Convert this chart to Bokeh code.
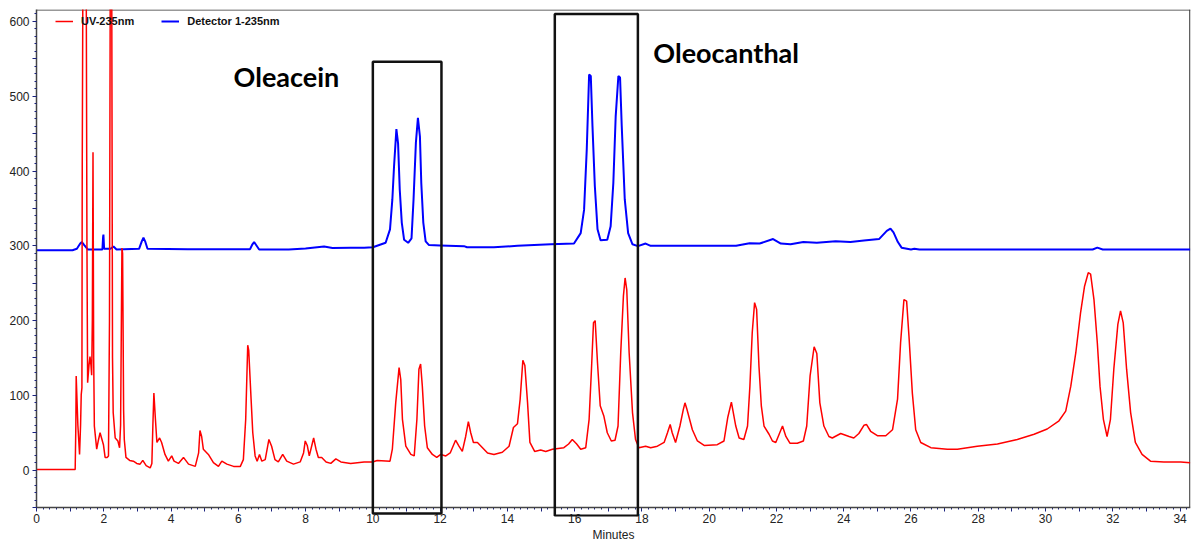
from bokeh.plotting import figure
from bokeh.models import (Range1d, FixedTicker, Legend, LegendItem, Label,
                          BoxAnnotation, ColumnDataSource, Span)
from bokeh.embed import file_html
from bokeh.resources import INLINE

# ---------------- data ----------------
red_time = [0.0, 1.15, 1.17, 1.18, 1.23, 1.28, 1.31, 1.33, 1.35, 1.36, 1.39, 1.47, 1.50, 1.52, 1.56,
            1.59, 1.62, 1.64, 1.66, 1.68, 1.70, 1.72, 1.79, 1.84, 1.89, 1.94, 1.99, 2.04, 2.10, 2.14,
            2.17, 2.20, 2.23, 2.26, 2.28, 2.34, 2.42, 2.47, 2.50, 2.54, 2.56, 2.59, 2.61, 2.66, 2.77,
            2.88, 2.98, 3.08, 3.16, 3.26, 3.38, 3.43, 3.46, 3.49, 3.53, 3.58, 3.66, 3.72, 3.82, 3.92,
            4.02, 4.09, 4.22, 4.37, 4.52, 4.72, 4.82, 4.86, 4.91, 4.96, 5.11, 5.26, 5.41, 5.51, 5.66,
            5.86, 6.06, 6.15, 6.22, 6.28, 6.31, 6.38, 6.43, 6.50, 6.56, 6.63, 6.70, 6.80, 6.91, 6.99,
            7.09, 7.19, 7.32, 7.44, 7.64, 7.84, 7.94, 7.99, 8.05, 8.11, 8.18, 8.24, 8.31, 8.38, 8.48,
            8.61, 8.75, 8.90, 9.05, 9.34, 9.74, 9.99, 10.13, 10.51, 10.58, 10.68, 10.78, 10.83, 10.88,
            10.98, 11.13, 11.23, 11.31, 11.37, 11.42, 11.47, 11.54, 11.62, 11.77, 11.90, 12.02, 12.17,
            12.30, 12.46, 12.56, 12.66, 12.76, 12.84, 12.91, 12.99, 13.11, 13.26, 13.41, 13.60, 13.85,
            14.05, 14.18, 14.30, 14.38, 14.46, 14.52, 14.60, 14.67, 14.81, 14.99, 15.14, 15.34, 15.68,
            15.82, 15.93, 16.06, 16.18, 16.33, 16.43, 16.50, 16.56, 16.61, 16.68, 16.76, 16.87, 16.97,
            17.09, 17.20, 17.29, 17.37, 17.45, 17.50, 17.55, 17.62, 17.72, 17.81, 17.91, 18.11, 18.26,
            18.46, 18.66, 18.76, 18.84, 18.90, 19.00, 19.13, 19.23, 19.28, 19.34, 19.50, 19.65, 19.85,
            20.24, 20.44, 20.55, 20.66, 20.79, 20.89, 21.03, 21.14, 21.21, 21.28, 21.35, 21.41, 21.48,
            21.55, 21.63, 21.78, 21.88, 21.98, 22.08, 22.18, 22.28, 22.40, 22.62, 22.80, 22.90, 23.00,
            23.12, 23.20, 23.29, 23.41, 23.56, 23.66, 23.91, 24.16, 24.30, 24.45, 24.60, 24.68, 24.80,
            25.00, 25.25, 25.45, 25.60, 25.69, 25.79, 25.87, 25.94, 26.04, 26.14, 26.29, 26.59, 27.08,
            27.38, 27.97, 28.57, 29.16, 29.66, 30.05, 30.40, 30.60, 30.75, 30.90, 31.04, 31.16, 31.27,
            31.34, 31.44, 31.54, 31.62, 31.72, 31.83, 31.93, 32.03, 32.15, 32.23, 32.31, 32.41, 32.53,
            32.67, 32.87, 33.12, 33.52, 34.02, 34.30]
red_signal = [1, 1, 60, 126, 60, 21, 60, 101, 110, 406, 800, 800, 300, 117, 140,
              152, 140, 127, 200, 425, 150, 59, 28, 40, 50, 42, 34, 17, 17, 19,
              200, 800, 800, 150, 77, 43, 39, 30, 60, 297, 290, 80, 41, 17, 13,
              12, 9, 8, 13, 6, 3, 9, 60, 103, 72, 37, 43, 37, 21, 12,
              19, 12, 9, 17, 8, 5, 23, 53, 45, 28, 21, 10, 5, 12, 8,
              5, 5, 14, 68, 167, 160, 95, 50, 19, 12, 21, 12, 14, 41, 32,
              14, 11, 21, 12, 8, 11, 23, 39, 33, 19, 32, 43, 28, 17, 17,
              11, 9, 15, 11, 9, 11, 11, 13, 12, 28, 90, 137, 121, 68,
              32, 21, 19, 68, 135, 142, 113, 59, 30, 21, 17, 21, 19,
              23, 40, 32, 25, 45, 65, 50, 37, 37, 30, 23, 21, 24,
              32, 57, 62, 95, 147, 140, 90, 37, 25, 27, 25, 28, 30,
              35, 41, 35, 28, 30, 68, 135, 197, 200, 143, 86, 72, 50,
              39, 40, 59, 157, 233, 257, 241, 157, 77, 41, 30, 32, 30,
              32, 37, 50, 61, 50, 37, 59, 81, 90, 81, 54, 39, 33,
              34, 39, 70, 91, 59, 43, 41, 59, 112, 184, 224, 215, 139,
              86, 59, 48, 39, 37, 48, 59, 45, 36, 36, 39, 59, 126,
              165, 156, 90, 59, 45, 43, 49, 45, 43, 49, 60, 61, 52,
              46, 46, 54, 95, 170, 228, 226, 179, 103, 54, 37, 30, 28,
              28, 32, 35, 41, 48, 55, 66, 79, 112, 157, 210, 246, 264,
              262, 228, 170, 112, 68, 45, 68, 135, 195, 213, 197, 135, 77,
              37, 21, 12, 11, 11, 10]

blue_time = [0.0, 1.07, 1.20, 1.30, 1.35, 1.42, 1.53, 1.80, 1.96, 1.98, 1.99, 2.01, 2.20, 2.29, 2.38,
             3.05, 3.13, 3.18, 3.23, 3.30, 4.5, 5.5, 6.35, 6.42, 6.47, 6.53, 6.62, 7.5, 8.0, 8.55,
             8.8, 9.34, 9.74, 10.0, 10.38, 10.51, 10.58, 10.63, 10.70, 10.75, 10.80, 10.86, 10.93,
             11.05, 11.15, 11.21, 11.28, 11.34, 11.40, 11.44, 11.50, 11.57, 11.67, 12.00, 12.71,
             12.80, 13.60, 14.30, 15.29, 15.98, 16.18, 16.28, 16.36, 16.43, 16.48, 16.53, 16.60,
             16.68, 16.77, 16.97, 17.07, 17.15, 17.22, 17.30, 17.35, 17.40, 17.49, 17.59, 17.72,
             17.88, 18.11, 18.26, 20.80, 21.20, 21.50, 21.90, 22.13, 22.42, 22.80, 23.20, 23.76,
             24.20, 24.60, 25.05, 25.28, 25.39, 25.48, 25.61, 25.72, 26.00, 26.10, 26.25, 31.40,
             31.54, 31.70, 34.30]
blue_signal = [294, 294, 296, 303, 305, 301, 295, 295, 295, 312, 315, 296, 296, 299, 295,
               296, 306, 311, 306, 296, 295.5, 295.5, 295.5, 302, 305, 301, 295, 295, 296.5, 299,
               297, 297.3, 297.5, 298, 304, 322, 362, 406, 456, 437, 375, 331, 308,
               304, 310, 362, 438, 471, 446, 384, 331, 306, 301, 300.5, 299.5,
               298, 298, 300, 302, 303, 317, 348, 429, 529, 527, 460, 380,
               322, 307.5, 308, 326, 384, 473, 527, 525, 460, 362, 317, 302,
               299.5, 303, 300, 300, 303.5, 303, 309, 303, 302, 305, 304, 306,
               305, 307, 309, 320, 323, 318, 305, 297.5, 295, 296, 295, 295,
               297.5, 295, 295]

series_names = ["UV-235nm", "Detector 1-235nm"]
x_title = "Minutes"
x_min, x_max = 0, 34.31
y_min, y_max = -50, 616
x_tick_values = list(range(0, 35))
x_tick_labels = {v: (str(v) if v % 2 == 0 else "") for v in x_tick_values}
y_tick_values = list(range(-50, 601, 50))
y_tick_labels = {v: (str(v) if v % 100 == 0 and v >= 0 else "") for v in y_tick_values}
annotations = ["Oleacein", "Oleocanthal"]
annotation_x = [5.86, 18.34]
annotation_y = [526.7, 558.8]
box_left = [10.0, 15.41]
box_right = [12.04, 17.88]
box_bottom = [-58, -61]
box_top = [546, 610]

# ---------------- figure ----------------
# the frame extends a little below the x axis line (drawn at y = -50)
# so that the two boxes can reach below it, as in the original
p = figure(width=1191, height=544, x_range=Range1d(x_min, x_max), y_range=Range1d(-62, y_max),
           output_backend="svg", toolbar_location=None,
           min_border_left=36, min_border_right=1, min_border_top=9, min_border_bottom=0)
p.xgrid.visible = False
p.ygrid.visible = False
p.outline_line_alpha = 0
p.background_fill_color = "white"

FONT = "Liberation Sans"
tick_navy = "#1a237e"
axis_gray = "#444444"

p.xaxis.ticker = FixedTicker(ticks=x_tick_values,
                             minor_ticks=[round(i * 0.2, 1) for i in range(0, 172)])
p.xaxis.major_label_overrides = x_tick_labels
p.yaxis.ticker = FixedTicker(ticks=y_tick_values, minor_ticks=list(range(-50, 611, 10)))
p.yaxis.major_label_overrides = y_tick_labels
p.yaxis.bounds = (y_min, y_max)

for ax in (p.xaxis[0], p.yaxis[0]):
    ax.axis_line_color = axis_gray
    ax.axis_line_width = 1.5
    ax.major_tick_line_color = tick_navy
    ax.minor_tick_line_color = tick_navy
    ax.major_label_text_font = FONT
    ax.major_label_text_font_size = "12px"
    ax.major_label_text_color = "#222222"

p.yaxis.major_tick_out = 4
p.yaxis.major_tick_in = 0
p.yaxis.minor_tick_out = 2
p.yaxis.minor_tick_in = 0
p.yaxis.major_label_standoff = 3

# x axis ticks start at y = -50 (9 px above the frame edge)
p.xaxis.axis_line_alpha = 0
p.xaxis.major_tick_in = 9
p.xaxis.major_tick_out = -5
p.xaxis.minor_tick_in = 9
p.xaxis.minor_tick_out = -7
p.xaxis.major_label_standoff = 2
p.add_layout(Span(location=y_min, dimension="width", line_color=axis_gray, line_width=1.5))

p.xaxis.axis_label = x_title
p.xaxis.axis_label_text_font = FONT
p.xaxis.axis_label_text_font_size = "12px"
p.xaxis.axis_label_text_font_style = "normal"
p.xaxis.axis_label_text_color = "#222222"
p.xaxis.axis_label_standoff = 2

# top and right border of the plot area
p.segment(x0=[x_min, x_max - 0.02], y0=[y_max - 0.7, y_min], x1=[x_max, x_max - 0.02],
          y1=[y_max - 0.7, y_max], line_color="#333333", line_width=1.2)

blue_src = ColumnDataSource(dict(t=blue_time, v=blue_signal))
red_src = ColumnDataSource(dict(t=red_time, v=red_signal))
r_blue = p.line("t", "v", source=blue_src, line_color="#0000ff", line_width=2)
r_red = p.line("t", "v", source=red_src, line_color="#ff0000", line_width=1.5)

legend = Legend(items=[LegendItem(label=series_names[0], renderers=[r_red]),
                       LegendItem(label=series_names[1], renderers=[r_blue])],
                orientation="horizontal", location=(15, 485),
                glyph_width=18, glyph_height=10, label_standoff=8, spacing=27,
                padding=4, margin=0, label_height=10,
                label_text_font=FONT, label_text_font_size="11px",
                label_text_font_style="bold", label_text_color="#111111",
                background_fill_alpha=0, border_line_alpha=0)
p.add_layout(legend)

for l, r, b, t in zip(box_left, box_right, box_bottom, box_top):
    p.add_layout(BoxAnnotation(left=l, right=r, bottom=b, top=t, fill_alpha=0,
                               line_color="#111111", line_alpha=1.0, line_width=2.5))

for txt, x, y in zip(annotations, annotation_x, annotation_y):
    p.add_layout(Label(x=x, y=y, text=txt, text_font="Lato", text_font_size="27px",
                       text_font_style="bold", text_color="black",
                       text_baseline="alphabetic", text_align="left"))

open("out.html", "w").write(file_html(p, INLINE))
